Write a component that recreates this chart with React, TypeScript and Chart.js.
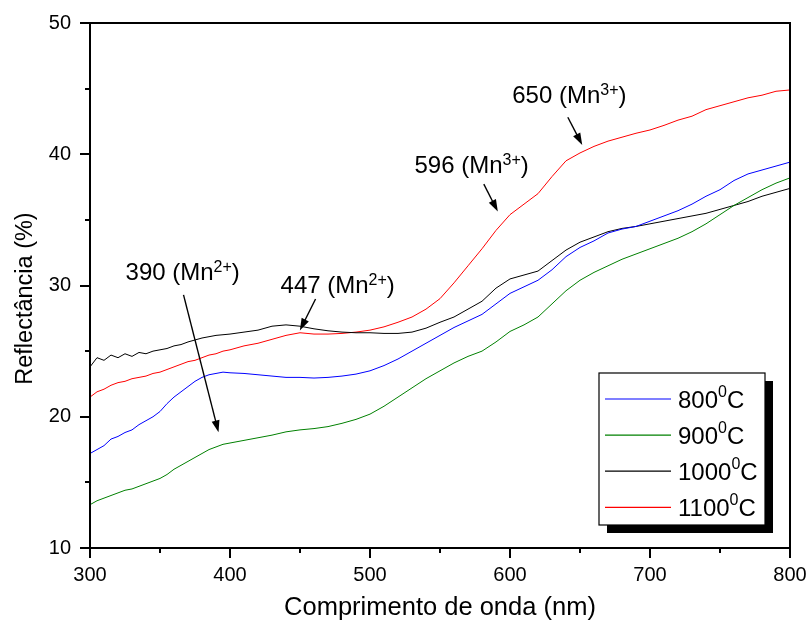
import React, { useEffect, useRef } from 'react';
import { Chart, registerables } from 'chart.js';

Chart.register(...registerables);

const FONT = '"Liberation Sans", Arial, Helvetica, sans-serif';

// Wavelength (nm): 5 nm steps up to 400, 10 nm steps after
const wavelengths = [
  300, 305, 310, 315, 320, 325, 330, 335, 340, 345, 350, 355, 360, 365, 370, 375, 380, 385, 390, 395, 400,
  410, 420, 430, 440, 450, 460, 470, 480, 490, 500, 510, 520, 530, 540, 550, 560, 570, 580, 590, 600,
  610, 620, 630, 640, 650, 660, 670, 680, 690, 700, 710, 720, 730, 740, 750, 760, 770, 780, 790, 800,
];

const reflect800 = [
  17.2, 17.5, 17.8, 18.3, 18.5, 18.8, 19.0, 19.4, 19.7, 20.0, 20.4, 21.0, 21.5, 21.9, 22.3, 22.7, 23.0, 23.2, 23.3, 23.4, 23.35,
  23.3, 23.2, 23.1, 23.0, 23.0, 22.95, 23.0, 23.1, 23.25, 23.5, 23.9, 24.4, 25.0, 25.6, 26.2, 26.8, 27.3, 27.8, 28.6, 29.4,
  29.9, 30.4, 31.2, 32.2, 32.9, 33.4, 34.0, 34.3, 34.5, 34.9, 35.3, 35.7, 36.2, 36.8, 37.3, 38.0, 38.5, 38.8, 39.1, 39.4,
];

const reflect900 = [
  13.3, 13.6, 13.8, 14.0, 14.2, 14.4, 14.5, 14.7, 14.9, 15.1, 15.3, 15.6, 16.0, 16.3, 16.6, 16.9, 17.2, 17.5, 17.7, 17.9, 18.0,
  18.2, 18.4, 18.6, 18.85, 19.0, 19.1, 19.25, 19.5, 19.8, 20.2, 20.8, 21.5, 22.2, 22.9, 23.5, 24.1, 24.6, 25.0, 25.7, 26.5,
  27.0, 27.6, 28.6, 29.6, 30.4, 31.0, 31.5, 32.0, 32.4, 32.8, 33.2, 33.6, 34.1, 34.7, 35.4, 36.1, 36.7, 37.3, 37.8, 38.2,
];

const reflect1000 = [
  23.8, 24.5, 24.3, 24.7, 24.5, 24.8, 24.6, 24.9, 24.8, 25.0, 25.1, 25.2, 25.4, 25.5, 25.7, 25.85, 26.0, 26.1, 26.2, 26.25, 26.3,
  26.45, 26.6, 26.9, 27.0, 26.9, 26.7, 26.55, 26.45, 26.4, 26.4, 26.35, 26.35, 26.45, 26.75, 27.2, 27.6, 28.2, 28.8, 29.8, 30.5,
  30.8, 31.1, 31.9, 32.7, 33.3, 33.7, 34.1, 34.35, 34.5, 34.7, 34.9, 35.1, 35.3, 35.5, 35.8, 36.1, 36.4, 36.8, 37.1, 37.4,
];

const reflect1100 = [
  21.5, 21.9, 22.1, 22.4, 22.6, 22.7, 22.9, 23.0, 23.1, 23.3, 23.4, 23.6, 23.8, 24.0, 24.2, 24.3, 24.5, 24.7, 24.8, 25.0, 25.1,
  25.4, 25.6, 25.9, 26.2, 26.4, 26.3, 26.3, 26.35, 26.45, 26.6, 26.85, 27.2, 27.6, 28.2, 29.0, 30.2, 31.5, 32.8, 34.2, 35.4,
  36.2, 37.0, 38.3, 39.5, 40.1, 40.6, 41.0, 41.3, 41.6, 41.85, 42.2, 42.6, 42.9, 43.4, 43.7, 44.0, 44.3, 44.5, 44.8, 44.9,
];

const seriesTemps = ['800', '900', '1000', '1100'];
const seriesColors = ['#0000ff', '#008000', '#000000', '#ff0000'];
const seriesValues = [reflect800, reflect900, reflect1000, reflect1100];

const xMajorTicks = [300, 400, 500, 600, 700, 800];
const xMinorTicks = [350, 450, 550, 650, 750];
const yMajorTicks = [10, 20, 30, 40, 50];
const yMinorTicks = [15, 25, 35, 45];

// Peak annotations (label anchor and arrow in data coordinates)
const peakLabels = ['390', '447', '596', '650'];
const peakIons = ['2+', '2+', '3+', '3+'];
const peakTextPos = [
  [325.4, 30.43],
  [436.1, 29.42],
  [531.8, 38.55],
  [601.6, 43.88],
];
const peakArrows = [
  [366.8, 29.29, 391.8, 18.81],
  [461.1, 28.97, 449.9, 26.58],
  [581.3, 37.72, 591.3, 35.63],
  [641.3, 42.82, 651.6, 40.71],
];

function drawParts(ctx: CanvasRenderingContext2D, parts: { t: string; sup?: boolean }[], x: number, base: number, size: number, supSize: number, raise: number) {
  let cx = x;
  for (const p of parts) {
    ctx.font = `${p.sup ? supSize : size}px ${FONT}`;
    ctx.fillText(p.t, cx, p.sup ? base - raise : base);
    cx += ctx.measureText(p.t).width;
  }
}

function drawArrow(ctx: CanvasRenderingContext2D, x0: number, y0: number, x1: number, y1: number) {
  const ang = Math.atan2(y1 - y0, x1 - x0);
  const hl = 12;
  const hw = 4;
  const bx = x1 - hl * Math.cos(ang);
  const by = y1 - hl * Math.sin(ang);
  ctx.lineWidth = 1.4;
  ctx.beginPath();
  ctx.moveTo(x0, y0);
  ctx.lineTo(bx + 2 * Math.cos(ang), by + 2 * Math.sin(ang));
  ctx.stroke();
  ctx.beginPath();
  ctx.moveTo(x1, y1);
  ctx.lineTo(bx + hw * Math.sin(ang), by - hw * Math.cos(ang));
  ctx.lineTo(bx - hw * Math.sin(ang), by + hw * Math.cos(ang));
  ctx.closePath();
  ctx.fill();
}

const decorPlugin = {
  id: 'decor',
  afterDraw(chart: any) {
    const ctx: CanvasRenderingContext2D = chart.ctx;
    const ca = chart.chartArea;
    const xs = chart.scales.x;
    const ys = chart.scales.y;
    ctx.save();
    ctx.strokeStyle = '#000';
    ctx.fillStyle = '#000';

    // frame
    ctx.lineWidth = 2;
    ctx.strokeRect(ca.left, ca.top, ca.right - ca.left, ca.bottom - ca.top);

    // ticks
    ctx.beginPath();
    for (const v of yMajorTicks) {
      const py = Math.round(ys.getPixelForValue(v));
      ctx.moveTo(ca.left - 10, py);
      ctx.lineTo(ca.left, py);
    }
    for (const v of yMinorTicks) {
      const py = Math.round(ys.getPixelForValue(v));
      ctx.moveTo(ca.left - 5, py);
      ctx.lineTo(ca.left, py);
    }
    for (const v of xMajorTicks) {
      const px = Math.round(xs.getPixelForValue(v));
      ctx.moveTo(px, ca.bottom);
      ctx.lineTo(px, ca.bottom + 10);
    }
    for (const v of xMinorTicks) {
      const px = Math.round(xs.getPixelForValue(v));
      ctx.moveTo(px, ca.bottom);
      ctx.lineTo(px, ca.bottom + 5);
    }
    ctx.stroke();

    // y title
    ctx.save();
    ctx.translate(32, (ca.top + ca.bottom) / 2 + 13);
    ctx.rotate(-Math.PI / 2);
    ctx.textAlign = 'center';
    ctx.textBaseline = 'alphabetic';
    ctx.font = `23.5px ${FONT}`;
    ctx.fillText('Reflectância (%)', 0, 0);
    ctx.restore();

    // annotations
    ctx.textAlign = 'left';
    ctx.textBaseline = 'alphabetic';
    for (let i = 0; i < peakLabels.length; i++) {
      const tx = xs.getPixelForValue(peakTextPos[i][0]);
      const ty = ys.getPixelForValue(peakTextPos[i][1]);
      drawParts(ctx, [{ t: `${peakLabels[i]} (Mn` }, { t: peakIons[i], sup: true }, { t: ')' }], tx, ty, 24, 16, 8);
      const a = peakArrows[i];
      drawArrow(ctx, xs.getPixelForValue(a[0]), ys.getPixelForValue(a[1]), xs.getPixelForValue(a[2]), ys.getPixelForValue(a[3]));
    }

    // legend with shadow
    const lr = ca.right - 25;
    const lb = ca.bottom - 23;
    const lw = 166;
    const lh = 152;
    const ll = lr - lw;
    const lt = lb - lh;
    ctx.fillStyle = '#000';
    ctx.fillRect(ll + 8, lt + 8, lw, lh);
    ctx.fillStyle = '#fff';
    ctx.fillRect(ll, lt, lw, lh);
    ctx.lineWidth = 1.2;
    ctx.strokeStyle = '#000';
    ctx.strokeRect(ll, lt, lw, lh);
    for (let i = 0; i < seriesTemps.length; i++) {
      const ry = lt + 26 + i * 36.1;
      ctx.strokeStyle = seriesColors[i];
      ctx.lineWidth = 1.2;
      ctx.beginPath();
      ctx.moveTo(ll + 6, ry);
      ctx.lineTo(ll + 72, ry);
      ctx.stroke();
      ctx.fillStyle = '#000';
      drawParts(ctx, [{ t: seriesTemps[i] }, { t: '0', sup: true }, { t: 'C' }], ll + 79, ry + 8.6, 24, 16, 10.5);
    }
    ctx.restore();
  },
};

const zeroPad = (s: any) => {
  s.paddingLeft = 0;
  s.paddingRight = 0;
  s.paddingTop = 0;
  s.paddingBottom = 0;
};

export default function App() {
  const canvasRef = useRef<HTMLCanvasElement | null>(null);

  useEffect(() => {
    const canvas = canvasRef.current;
    if (!canvas) return;
    const datasets = seriesValues.map((vals, i) => ({
      label: `${seriesTemps[i]}°C`,
      data: wavelengths.map((w, j) => ({ x: w, y: vals[j] })),
      borderColor: seriesColors[i],
      backgroundColor: seriesColors[i],
      borderWidth: 1,
      pointRadius: 0,
      tension: 0,
      fill: false,
    }));
    const chart = new Chart(canvas, {
      type: 'line',
      data: { datasets },
      options: {
        animation: false,
        responsive: false,
        devicePixelRatio: 1,
        layout: { padding: { top: 23, right: 19, left: 0, bottom: 0 } },
        plugins: { legend: { display: false }, tooltip: { enabled: false } },
        scales: {
          x: {
            type: 'linear',
            min: 300,
            max: 800,
            grid: { display: false, drawTicks: false },
            border: { display: false },
            ticks: { stepSize: 100, padding: 15, color: '#000', font: { size: 20, family: FONT } },
            title: { display: true, text: 'Comprimento de onda (nm)', color: '#000', font: { size: 25.5, family: FONT }, padding: { top: 0, bottom: 5 } },
            afterFit: (s: any) => { s.height = 80; zeroPad(s); },
          },
          y: {
            type: 'linear',
            min: 10,
            max: 50,
            grid: { display: false, drawTicks: false },
            border: { display: false },
            ticks: { stepSize: 10, padding: 19, color: '#000', font: { size: 20, family: FONT } },
            afterFit: (s: any) => { s.width = 90; zeroPad(s); },
          },
        },
      },
      plugins: [decorPlugin],
    });
    return () => chart.destroy();
  }, []);

  return (
    <div style={{ position: 'absolute', left: 0, top: 0, width: 809, height: 628, background: '#fff' }}>
      <canvas ref={canvasRef} width={809} height={628} style={{ width: 809, height: 628, display: 'block' }} />
    </div>
  );
}
